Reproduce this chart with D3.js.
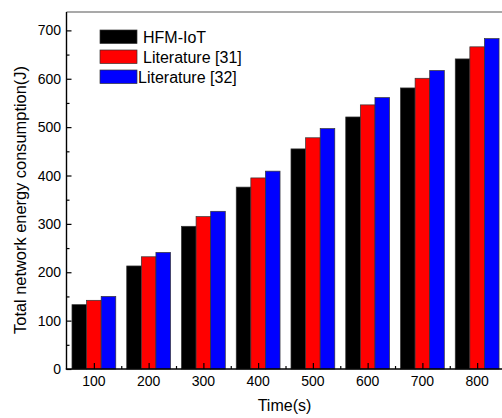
<!DOCTYPE html>
<html lang="en">
<head>
<meta charset="UTF-8">
<title>Total network energy consumption</title>
<style>
  body { margin: 0; background: #fff; }
  svg { display: block; font-family: "Liberation Sans", Arial, sans-serif; }
</style>
</head>
<body>
<svg width="502" height="418"></svg>
<script src="https://d3js.org/d3.v7.min.js"></script>
<script>
// data
const times = [100, 200, 300, 400, 500, 600, 700, 800];
const hfmIot = [133, 213, 295, 376, 455, 521, 581, 641];
const lit31 = [142, 232, 315, 395, 478, 546, 601, 666];
const lit32 = [150, 241, 326, 409, 497, 561, 617, 683];
const seriesNames = ["HFM-IoT", "Literature [31]", "Literature [32]"];
const seriesColors = ["#000000", "#ff0000", "#0000ff"];
const yTicks = [0, 100, 200, 300, 400, 500, 600, 700];

const svg = d3.select("svg");
const plotLeft = 66.5, plotTop = 12, plotBottom = 369, plotRight = 510;

const x = d3.scaleLinear().domain([50, 860]).range([plotLeft, plotRight]);
const y = d3.scaleLinear().domain([0, 738]).range([plotBottom, plotTop]);

const barW = 80 / 3; // bar width in x units
const series = [hfmIot, lit31, lit32];

// bars
series.forEach((vals, s) => {
  svg.append("g").selectAll("rect")
    .data(vals)
    .join("rect")
    .attr("x", (d, i) => x(times[i] + (s - 1.5) * barW))
    .attr("width", x(barW) - x(0))
    .attr("y", d => y(d))
    .attr("height", d => y(0) - y(d))
    .attr("fill", seriesColors[s])
    .attr("stroke", "#333")
    .attr("stroke-width", 0.7);
});

// frame top
svg.append("line")
  .attr("x1", plotLeft).attr("x2", 502)
  .attr("y1", plotTop).attr("y2", plotTop)
  .attr("stroke", "#555").attr("stroke-width", 1.2);

// y axis (ticks inside)
const yAxis = d3.axisRight(y).tickValues(yTicks).tickSize(5).tickFormat("");
const gy = svg.append("g").attr("transform", `translate(${plotLeft},0)`).call(yAxis);
gy.select(".domain").remove();
gy.selectAll(".tick line").attr("stroke", "#000").attr("stroke-width", 1.2);
const yMinor = d3.axisRight(y).tickValues(d3.range(50, 738, 100)).tickSize(3).tickFormat("");
const gym = svg.append("g").attr("transform", `translate(${plotLeft},0)`).call(yMinor);
gym.select(".domain").remove();
gym.selectAll(".tick line").attr("stroke", "#000").attr("stroke-width", 1.2);

svg.append("g").selectAll("text")
  .data(yTicks)
  .join("text")
  .attr("x", 61)
  .attr("y", d => y(d))
  .attr("dy", "0.36em")
  .attr("text-anchor", "end")
  .attr("font-size", 14)
  .text(d => d);

svg.append("line")
  .attr("x1", plotLeft).attr("x2", plotLeft)
  .attr("y1", plotTop).attr("y2", plotBottom + 0.6)
  .attr("stroke", "#000").attr("stroke-width", 1.4);

// x axis (ticks inside)
const xMajor = d3.axisTop(x).tickValues(times).tickSize(6).tickFormat("");
const gx = svg.append("g").attr("transform", `translate(0,${plotBottom})`).call(xMajor);
gx.select(".domain").remove();
gx.selectAll(".tick line").attr("stroke", "#000").attr("stroke-width", 1.2);
const xMinor = d3.axisTop(x).tickValues(times.map(t => t + 50)).tickSize(3).tickFormat("");
const gxm = svg.append("g").attr("transform", `translate(0,${plotBottom})`).call(xMinor);
gxm.select(".domain").remove();
gxm.selectAll(".tick line").attr("stroke", "#000").attr("stroke-width", 1.2);

svg.append("g").selectAll("text")
  .data(times)
  .join("text")
  .attr("x", d => x(d))
  .attr("y", 386)
  .attr("text-anchor", "middle")
  .attr("font-size", 14)
  .text(d => d);

svg.append("line")
  .attr("x1", plotLeft - 0.7).attr("x2", 502)
  .attr("y1", plotBottom).attr("y2", plotBottom)
  .attr("stroke", "#000").attr("stroke-width", 1.4);

// axis titles
svg.append("text")
  .attr("x", 284.5).attr("y", 411)
  .attr("text-anchor", "middle")
  .attr("font-size", 16)
  .text("Time(s)");

svg.append("text")
  .attr("transform", "translate(26,200) rotate(-90)")
  .attr("text-anchor", "middle")
  .attr("font-size", 16.4)
  .text("Total network energy consumption(J)");

// legend
const legendY = [30, 50, 70];
const legendTextX = [143, 143, 138];
seriesNames.forEach((name, i) => {
  svg.append("rect")
    .attr("x", 100).attr("y", legendY[i])
    .attr("width", 37).attr("height", 13.5)
    .attr("fill", seriesColors[i])
    .attr("stroke", "#333").attr("stroke-width", 0.7);
  svg.append("text")
    .attr("x", legendTextX[i]).attr("y", legendY[i] + 12.5)
    .attr("font-size", 16)
    .text(name);
});
</script>
</body>
</html>
